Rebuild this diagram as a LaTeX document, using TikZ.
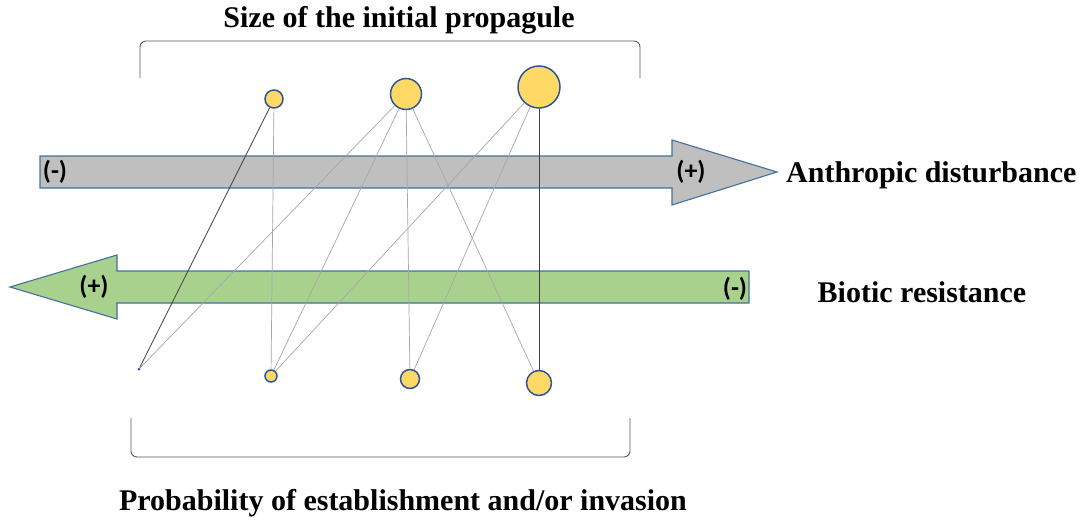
\documentclass[tikz,border=0pt]{standalone}
\usepackage{fontspec}
\setmainfont{Liberation Serif}
\newfontfamily\calib{Carlito}
\definecolor{edgeblue}{HTML}{41719C}
\definecolor{dotedge}{HTML}{2F5597}
\definecolor{greyfill}{HTML}{BFBFBF}
\definecolor{greenfill}{HTML}{A9D18E}
\definecolor{dotfill}{HTML}{FFD966}
\definecolor{darkline}{HTML}{404040}
\definecolor{lightline}{HTML}{A6A6A6}
\definecolor{bracketcol}{HTML}{595959}
\begin{document}
\begin{tikzpicture}[x=1pt,y=-1pt,
  dot/.style={circle,draw=dotedge,line width=1.5pt,fill=dotfill,inner sep=0pt},
  arrowbody/.style={draw=edgeblue,line width=1.1pt},
  bigtext/.style={font=\fontsize{30}{36}\selectfont\bfseries,inner sep=0pt},
  sign/.style={font=\calib\bfseries\fontsize{26}{30}\selectfont,inner sep=0pt},
  bracket/.style={draw=bracketcol,line width=0.9pt,rounded corners=6pt},
  strong/.style={draw=darkline,line width=0.7pt},
  faint/.style={draw=lightline,line width=0.7pt}]
\useasboundingbox (0,0) rectangle (1089,524);
% arrows
\path[arrowbody,fill=greyfill] (40,156) -- (672,156) -- (672,140) -- (777,172) -- (672,205) -- (672,188) -- (40,188) -- cycle;
\path[arrowbody,fill=greenfill] (749,271) -- (117,271) -- (117,255) -- (10,287) -- (117,319) -- (117,303) -- (749,303) -- cycle;
\node[sign] (gm) at (55,172) {(-)};
\node[sign] (gp) at (691,172) {(+)};
\node[sign] (rp) at (94,287) {(+)};
\node[sign] (rm) at (735,289) {(-)};
% brackets
\draw[bracket] (140,78) -- (140,41) -- (640,41) -- (640,78);
\draw[bracket] (131,418) -- (131,457) -- (630,457) -- (630,418);
% circles
\node[dot,minimum size=18pt] (t1) at (274,99) {};
\node[dot,minimum size=31pt] (t2) at (406,94) {};
\node[dot,minimum size=42pt] (t3) at (539,87) {};
\node[circle,fill=dotedge,inner sep=0pt,minimum size=3pt] (b0) at (139,369) {};
\node[dot,minimum size=12pt] (b1) at (271,376) {};
\node[dot,minimum size=19pt] (b2) at (410,379) {};
\node[dot,minimum size=25pt] (b3) at (539,383) {};
% connectors
\draw[strong] (t1) -- (b0);
\draw[faint] (t1) -- (b1);
\draw[faint] (t2) -- (b0);
\draw[faint] (t2) -- (b1);
\draw[faint] (t2) -- (b2);
\draw[faint] (t2) -- (b3);
\draw[faint] (t3) -- (b1);
\draw[faint] (t3) -- (b2);
\draw[strong] (t3) -- (b3);
% labels
\node[bigtext] (title) at (399,20) {Size of the initial propagule};
\node[bigtext,anchor=west] (anth) at (786,175) {Anthropic disturbance};
\node[bigtext] (biot) at (922,292) {Biotic resistance};
\node[bigtext] (prob) at (403,503) {Probability of establishment and/or invasion};
\end{tikzpicture}
\end{document}
